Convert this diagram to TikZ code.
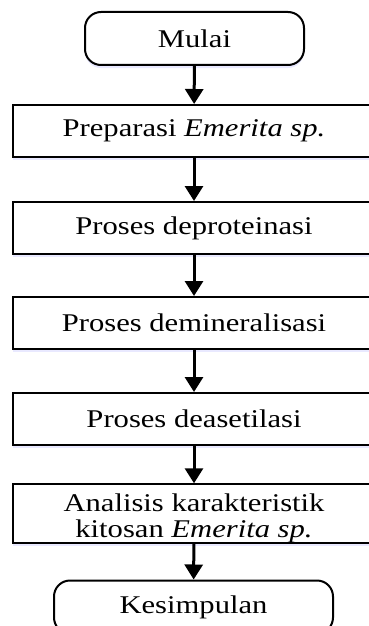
\documentclass[tikz,border=0pt]{standalone}
\usepackage{fontspec}
\setmainfont{Liberation Serif}[FakeStretch=1.2]
\usetikzlibrary{arrows.meta}
\usetikzlibrary{shadows}

\tikzset{
    boxshadow/.style={drop shadow={shadow xshift=0pt, shadow yshift=-3pt, fill=blue!25, opacity=.35}},
    prosesbox/.style={draw, line width=2pt, fill=white, boxshadow, inner sep=0pt,
        minimum width=362pt, minimum height=52pt, font=\fontsize{25.5}{26}\selectfont},
    terminal/.style={prosesbox, rounded corners=16pt, minimum height=53pt},
    panah/.style={-{Triangle[width=18pt,length=15pt]}, line width=3pt}
}

\begin{document}
\begin{tikzpicture}[x=1pt,y=-1pt]
    \useasboundingbox (0,0) rectangle (368,626);

        \node[terminal, minimum width=219pt] (mulai) at (194.5,38.5) {Mulai};
        \node[prosesbox] (prep) at (194,131) {Preparasi \textit{Emerita sp.}};
        \node[prosesbox] (depro) at (194,228) {Proses deproteinasi};
        \node[prosesbox] (demin) at (194,323) {Proses demineralisasi};
        \node[prosesbox] (deaset) at (194,419) {Proses deasetilasi};
        \node[prosesbox] (analisis) at (194,513.5) {\parbox[c][53pt][b]{362pt}{\centering
            \fontsize{25.5}{26}\selectfont Analisis karakteristik\\kitosan \textit{Emerita sp.}}};
        \node[terminal, minimum width=279pt] (selesai) at (193.5,607) {Kesimpulan};

        % alur proses
        \draw[panah] (mulai) -- (prep);
        \draw[panah] (prep) -- (depro);
        \draw[panah] (depro) -- (demin);
        \draw[panah] (demin) -- (deaset);
        \draw[panah] (deaset) -- (analisis);
        \draw[panah] (analisis) -- (selesai);

    \end{tikzpicture}
\end{document}
